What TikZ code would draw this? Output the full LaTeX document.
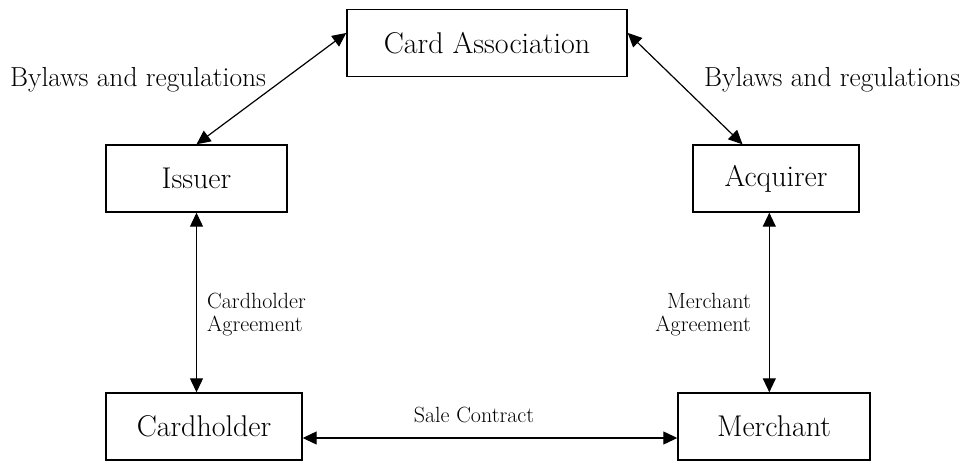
\documentclass[tikz,border=0pt]{standalone}
\usepackage{fontspec}
\usetikzlibrary{arrows.meta,calc}
\begin{document}
\begin{tikzpicture}[x=1pt,y=-1pt,
  box/.style={draw,line width=1.4pt,rectangle,minimum height=67pt,inner sep=0pt,font=\fontsize{30}{33}\selectfont},
  conn/.style={line width=1.2pt,{Triangle[length=14pt,width=13pt]}-{Triangle[length=14pt,width=13pt]}},
  biglab/.style={inner sep=0pt,font=\fontsize{27.5}{30}\selectfont},
  smalllab/.style={inner sep=0pt,font=\fontsize{22}{23}\selectfont}]
\useasboundingbox (0,0) rectangle (968,462);
\node[box,minimum width=280pt] (ca) at (487,43) {Card Association};
\node[box,minimum width=181pt] (iss) at (196.5,178.5) {Issuer};
\node[box,minimum width=166pt] (acq) at (776,178.5) {Acquirer};
\node[box,minimum width=196pt] (ch) at (204,426.5) {Cardholder};
\node[box,minimum width=192pt] (mer) at (774,426.5) {Merchant};

\node[biglab,anchor=base west] (bl) at (10,87) {Bylaws and regulations};
\node[biglab,anchor=base west] (br) at (704,87) {Bylaws and regulations};
\node[smalllab,anchor=west,align=left] (cha) at (207,315) {Cardholder\\Agreement};
\node[smalllab,anchor=east,align=right] (ma) at (751,315) {Merchant\\Agreement};
\node[smalllab,anchor=base] (sc) at (474,422) {Sale Contract};

\coordinate (caL) at ($(ca.north west)!0.353!(ca.south west)$);
\coordinate (caR) at ($(ca.north east)!0.353!(ca.south east)$);
\coordinate (acqT) at ($(acq.north west)!0.30!(acq.north east)$);
\coordinate (acqB) at ($(acq.south west)!0.46!(acq.south east)$);
\draw[conn] (caL) -- (iss.north);
\draw[conn] (caR) -- (acqT);
\draw[conn] (iss.south) -- (iss.south |- ch.north);
\draw[conn] (acqB) -- (acqB |- mer.north);
\draw[conn] ([yshift=-11.5pt]ch.east) -- ([yshift=-11.5pt]mer.west);
\end{tikzpicture}
\end{document}
